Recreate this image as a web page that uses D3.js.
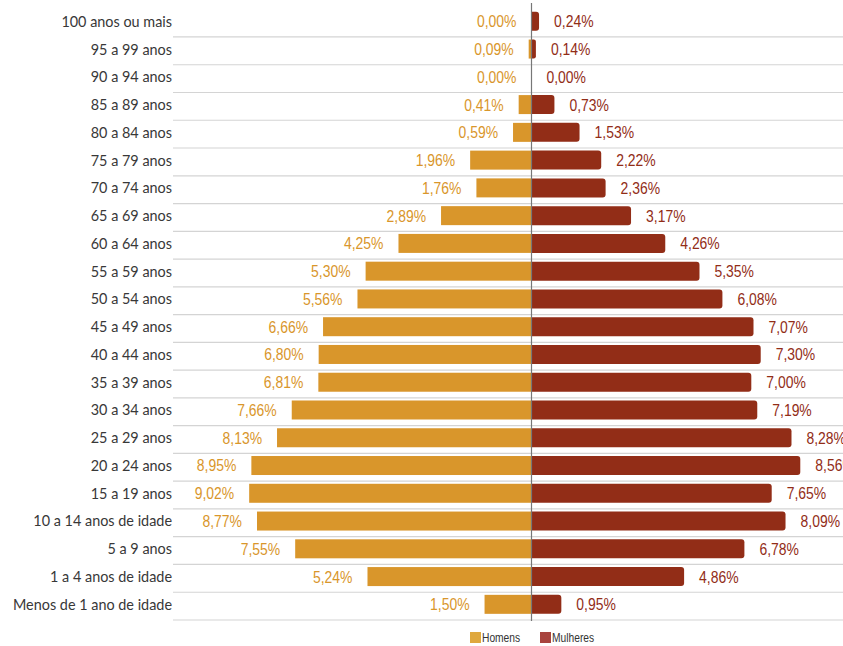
<!DOCTYPE html>
<html>
<head>
<meta charset="utf-8">
<script src="https://cdn.jsdelivr.net/npm/d3@7"></script>
<style>
  body { margin: 0; background: #fff; }
  svg { display: block; }
</style>
</head>
<body>
<div id="chart"></div>
<script>
// dados da pirâmide etária (% da população)
const faixas = ["100 anos ou mais", "95 a 99 anos", "90 a 94 anos", "85 a 89 anos", "80 a 84 anos",
  "75 a 79 anos", "70 a 74 anos", "65 a 69 anos", "60 a 64 anos", "55 a 59 anos", "50 a 54 anos",
  "45 a 49 anos", "40 a 44 anos", "35 a 39 anos", "30 a 34 anos", "25 a 29 anos", "20 a 24 anos",
  "15 a 19 anos", "10 a 14 anos de idade", "5 a 9 anos", "1 a 4 anos de idade", "Menos de 1 ano de idade"];
const homens = [0.00, 0.09, 0.00, 0.41, 0.59, 1.96, 1.76, 2.89, 4.25, 5.30, 5.56,
  6.66, 6.80, 6.81, 7.66, 8.13, 8.95, 9.02, 8.77, 7.55, 5.24, 1.50];
const mulheres = [0.24, 0.14, 0.00, 0.73, 1.53, 2.22, 2.36, 3.17, 4.26, 5.35, 6.08,
  7.07, 7.30, 7.00, 7.19, 8.28, 8.56, 7.65, 8.09, 6.78, 4.86, 0.95];
const series = ["Homens", "Mulheres"];

const width = 843;
const height = 646;
const centro = 531.5;
const corH = "#D9962B";
const corM = "#922D17";
// "narrow" = Liberation Sans comprimida na horizontal
const fonteNarrow = "'Liberation Sans', Arial, sans-serif";
const fonteRotulo = "Lato, 'Open Sans', sans-serif";
const aperto = 0.82;

const fmt = v => v.toFixed(2).replace(".", ",") + "%";

const svg = d3.select("#chart").append("svg")
  .attr("width", width)
  .attr("height", height);

const y = d3.scaleBand().domain(faixas).range([9.2, 620]);
const xH = d3.scaleLinear().domain([0, 10]).range([centro, centro - 313]);
const xM = d3.scaleLinear().domain([0, 10]).range([centro, centro + 314]);
const barH = 19;
const barY = d => y(d) + 2.6;

// linhas de grade
svg.append("g").selectAll("line").data(faixas).enter().append("line")
  .attr("x1", 173).attr("x2", width)
  .attr("y1", d => y(d) + y.bandwidth())
  .attr("y2", d => y(d) + y.bandwidth())
  .attr("stroke", "#d4d4d4").attr("stroke-width", 1.2);

// rótulos das faixas
svg.append("g").selectAll("g").data(faixas).enter().append("g")
  .attr("transform", d => `translate(172,${barY(d) + barH / 2}) scale(0.93,1)`)
  .append("text")
  .attr("dy", "0.35em")
  .attr("text-anchor", "end")
  .attr("font-family", fonteRotulo)
  .attr("font-size", 15.5)
  .attr("fill", "#383838")
  .text(d => d);

const dados = faixas.map((f, i) => ({faixa: f, h: homens[i], m: mulheres[i]}));

// barras homens
svg.append("g").selectAll("rect").data(dados).enter().append("rect")
  .attr("x", d => xH(d.h))
  .attr("y", d => barY(d.faixa))
  .attr("width", d => centro - xH(d.h))
  .attr("height", barH)
  .attr("fill", corH);

// barras mulheres (cantos arredondados à direita)
svg.append("g").selectAll("path").data(dados.filter(d => d.m > 0)).enter().append("path")
  .attr("d", d => {
    const x0 = centro, x1 = xM(d.m), y0 = barY(d.faixa), r = Math.min(3, (x1 - x0) / 2);
    return `M${x0},${y0}H${x1 - r}Q${x1},${y0} ${x1},${y0 + r}V${y0 + barH - r}Q${x1},${y0 + barH} ${x1 - r},${y0 + barH}H${x0}Z`;
  })
  .attr("fill", corM);

// valores
svg.append("g").selectAll("g").data(dados).enter().append("g")
  .attr("transform", d => `translate(${xH(d.h) - 15},${barY(d.faixa) + barH / 2}) scale(${aperto},1)`)
  .append("text")
  .attr("dy", "0.35em")
  .attr("text-anchor", "end")
  .attr("font-family", fonteNarrow)
  .attr("font-size", 17)
  .attr("fill", corH)
  .text(d => fmt(d.h));

svg.append("g").selectAll("g").data(dados).enter().append("g")
  .attr("transform", d => `translate(${xM(d.m) + 15},${barY(d.faixa) + barH / 2}) scale(${aperto},1)`)
  .append("text")
  .attr("dy", "0.35em")
  .attr("font-family", fonteNarrow)
  .attr("font-size", 17)
  .attr("fill", corM)
  .text(d => fmt(d.m));

// eixo central
svg.append("line")
  .attr("x1", centro).attr("x2", centro)
  .attr("y1", 3).attr("y2", 621)
  .attr("stroke", "#777").attr("stroke-width", 1.2);

// legenda
const leg = svg.append("g").attr("transform", "translate(470, 632)");
const legX = [0, 70];
const legCor = ["#DFA83E", "#A8443E"];
series.forEach((s, i) => {
  leg.append("rect").attr("x", legX[i]).attr("y", 0).attr("width", 11).attr("height", 11)
    .attr("fill", legCor[i]);
  leg.append("g").attr("transform", `translate(${legX[i] + 12},5.5) scale(${aperto},1)`)
    .append("text").attr("dy", "0.35em")
    .attr("font-family", fonteNarrow).attr("font-size", 12.5).attr("fill", "#333")
    .text(s);
});
</script>
</body>
</html>
